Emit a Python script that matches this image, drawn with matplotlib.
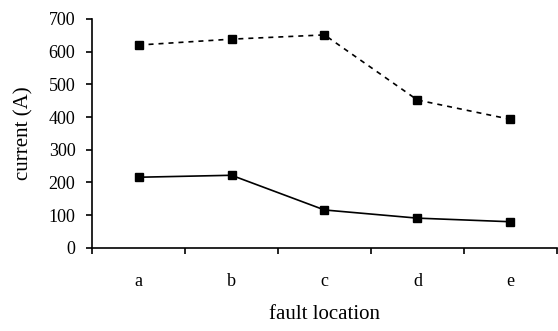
import matplotlib.pyplot as plt
import numpy as np

plt.rcParams['font.family'] = ['Liberation Serif', 'DejaVu Serif']

# fault location categories and measured currents
locations = ['a', 'b', 'c', 'd', 'e']
current_upper = [620, 638, 651, 452, 393]
current_lower = [216, 222, 116, 91, 80]

x = np.arange(len(locations)) + 0.5

fig = plt.figure(figsize=(5.58, 3.31), dpi=100)
ax = fig.add_axes([0.165, 0.251, 0.833, 0.692])

ax.plot(x, current_upper, color='black', lw=1.2, ls=(0, (3, 3)),
        marker='s', ms=5.5, mfc='black', mec='black')
ax.plot(x, current_lower, color='black', lw=1.2, ls='-',
        marker='s', ms=5.5, mfc='black', mec='black')

ax.set_xlim(0, 5)
ax.set_ylim(0, 700)
ax.set_yticks(range(0, 701, 100))
ax.set_xticks(range(0, 6))
ax.set_xticklabels([])
ax.set_xticks(x, minor=True)
ax.set_xticklabels(locations, minor=True)
ax.tick_params(axis='x', which='minor', length=0, pad=18, labelsize=13)
ax.tick_params(axis='x', which='major', length=4, width=1.2, direction='out')
ax.tick_params(axis='y', length=4, width=1.2, direction='out', labelsize=13, pad=8)

for side in ['top', 'right']:
    ax.spines[side].set_visible(False)
for side in ['left', 'bottom']:
    ax.spines[side].set_linewidth(1.2)

ax.set_xlabel('fault location', fontsize=15, labelpad=11)
ax.set_ylabel('current (A)', fontsize=15, labelpad=11)

fig.savefig('out.png', dpi=100)
